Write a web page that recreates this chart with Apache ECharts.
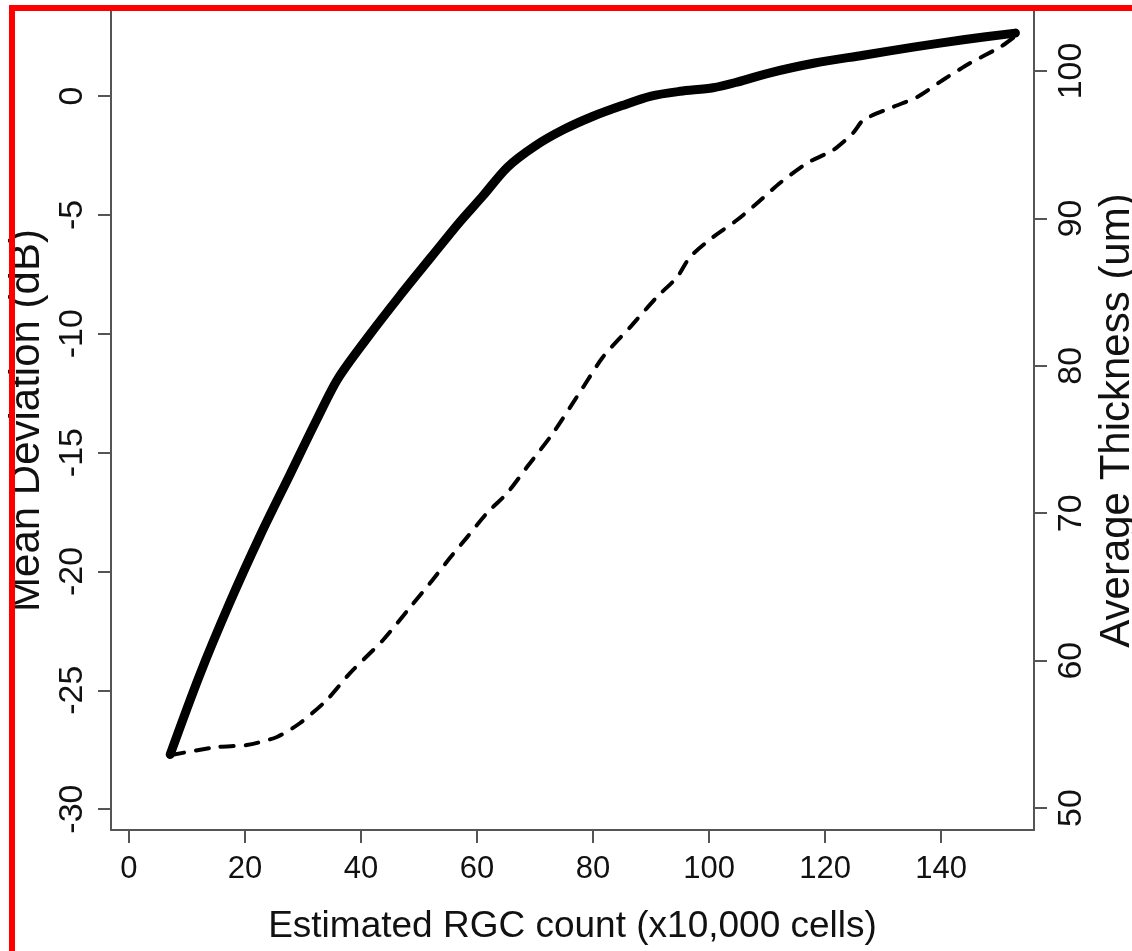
<!DOCTYPE html>
<html>
<head>
<meta charset="utf-8">
<script src="https://cdn.jsdelivr.net/npm/echarts@6/dist/echarts.min.js"></script>
<style>
html,body{margin:0;padding:0;background:#fff;}
#chart{width:1132px;height:951px;}
</style>
</head>
<body>
<div id="chart"></div>
<script>
// X values (Estimated RGC count, x10,000 cells) for Mean Deviation curve
const mdX = [7.1, 12.2, 17.4, 22.6, 27.8, 32.4, 36.0, 41.0, 46.7, 52.0, 57.0, 61.0, 65.2, 70.0, 75.0, 80.0, 85.0, 90.0, 95.0, 100.7, 105.0, 110.0, 118.0, 126.6, 135.2, 143.8, 152.8];
// Mean Deviation (dB)
const mdY = [-27.7, -24.35, -21.3, -18.5, -15.9, -13.6, -11.9, -10.2, -8.4, -6.8, -5.3, -4.2, -3.0, -2.1, -1.4, -0.85, -0.4, 0.0, 0.2, 0.35, 0.6, 0.95, 1.38, 1.72, 2.06, 2.37, 2.65];
// X values for Average Thickness curve
const thkX = [7.3, 15.2, 20.3, 25.5, 29.5, 34.1, 38.1, 43.8, 48.5, 51.9, 55.3, 58.3, 61.7, 65.2, 68.6, 73.1, 78.3, 81.7, 86.4, 91.0, 94.5, 96.7, 100.7, 104.8, 108.3, 112.2, 116.9, 121.4, 124.8, 126.6, 131.7, 135.9, 140.3, 145.0, 150.2, 153.0];
// Average Thickness (um)
const thkY = [53.6, 54.14, 54.27, 54.82, 55.77, 57.33, 59.16, 61.4, 63.64, 65.26, 66.96, 68.38, 70.01, 71.37, 73.13, 75.44, 78.56, 80.6, 82.63, 84.67, 86.02, 87.38, 88.74, 89.89, 91.04, 92.4, 93.76, 94.64, 95.79, 96.68, 97.56, 98.24, 99.39, 100.54, 101.63, 102.44];
// Tick labels
const xTicks = [0, 20, 40, 60, 80, 100, 120, 140];
const mdTicks = [-30, -25, -20, -15, -10, -5, 0];
const thkTicks = [50, 60, 70, 80, 90, 100];

const zip = (a, b) => a.map((v, i) => [v, b[i]]);

const axisColor = '#555';
const textColor = '#111';
const font = '"Liberation Sans", Arial, Helvetica, sans-serif';

const chart = echarts.init(document.getElementById('chart'), null, {renderer: 'canvas'});
chart.setOption({
  animation: false,
  backgroundColor: '#fff',
  grid: {left: 111, right: 98, top: 11, bottom: 121, containLabel: false, outerBoundsMode: 'none'},
  graphic: [
    {type: 'rect', z: 100, shape: {x: 9, y: 5, width: 1123, height: 6}, style: {fill: '#ff0000'}},
    {type: 'rect', z: 100, shape: {x: 9, y: 5, width: 6, height: 946}, style: {fill: '#ff0000'}}
  ],
  xAxis: {
    type: 'value', min: -3.1, max: 156,
    name: 'Estimated RGC count (x10,000 cells)',
    nameLocation: 'middle', nameGap: 78,
    nameTextStyle: {fontFamily: font, fontSize: 37, color: textColor},
    axisLine: {show: true, onZero: false, lineStyle: {color: axisColor, width: 2}},
    axisTick: {show: true, inside: false, length: 13, customValues: xTicks, lineStyle: {color: axisColor, width: 2}},
    axisLabel: {show: true, customValues: xTicks, margin: 24, fontFamily: font, fontSize: 31, color: textColor},
    splitLine: {show: false}
  },
  yAxis: [
    {
      type: 'value', position: 'left', min: -30.88, max: 3.58,
      name: 'Mean Deviation (dB)',
      nameLocation: 'middle', nameGap: 47,
      nameTextStyle: {fontFamily: font, fontSize: 42, color: textColor},
      axisLine: {show: true, onZero: false, lineStyle: {color: axisColor, width: 2}},
      axisTick: {show: true, inside: false, length: 13, customValues: mdTicks, lineStyle: {color: axisColor, width: 2}},
      axisLabel: {show: true, customValues: mdTicks, rotate: 90, margin: 21, fontFamily: font, fontSize: 34, color: textColor},
      splitLine: {show: false}
    },
    {
      type: 'value', position: 'right', min: 48.51, max: 104.07,
      name: 'Average Thickness (um)',
      nameLocation: 'middle', nameGap: 60,
      nameTextStyle: {fontFamily: font, fontSize: 42, color: textColor},
      axisLine: {show: true, onZero: false, lineStyle: {color: axisColor, width: 2}},
      axisTick: {show: true, inside: false, length: 13, customValues: thkTicks, lineStyle: {color: axisColor, width: 2}},
      axisLabel: {show: true, customValues: thkTicks, rotate: 90, margin: 21, fontFamily: font, fontSize: 34, color: textColor},
      splitLine: {show: false}
    }
  ],
  series: [
    {
      name: 'Mean Deviation', type: 'line', yAxisIndex: 0,
      data: zip(mdX, mdY), symbol: 'none', smooth: 0.3,
      lineStyle: {color: '#000', width: 9, cap: 'round', join: 'round'}
    },
    {
      name: 'Average Thickness', type: 'line', yAxisIndex: 1,
      data: zip(thkX, thkY), symbol: 'none', smooth: 0.25,
      lineStyle: {color: '#000', width: 4, type: [13, 12], cap: 'round', join: 'round'}
    }
  ]
});
</script>
</body>
</html>
